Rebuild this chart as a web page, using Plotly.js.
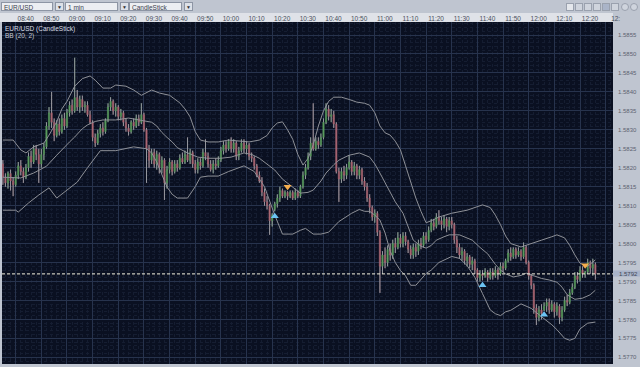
<!DOCTYPE html>
<html>
<head>
<meta charset="utf-8">
<script src="https://cdn.plot.ly/plotly-3.0.1.min.js"></script>
<style>
  html,body{margin:0;padding:0;background:#bfc5d0;width:640px;height:367px;overflow:hidden;font-family:"Liberation Sans",Arial,sans-serif;}
  #wrap{position:relative;width:640px;height:367px;}
  #strip{position:absolute;left:0;top:13px;width:613px;height:9px;background:#dfe2e8;z-index:0;}
  #chart{position:absolute;left:0;top:0;width:640px;height:367px;z-index:1;}
  .dd{position:absolute;top:2px;height:9px;background:#eceef2;border:1px solid #8d95a4;font-size:6.5px;line-height:9px;color:#3c4250;padding-left:2px;box-sizing:border-box;z-index:2;}
  .btn{position:absolute;top:2px;width:9px;height:9px;background:#dde1e8;border:1px solid #8d95a4;box-sizing:border-box;z-index:2;font-size:5px;line-height:8px;text-align:center;color:#333;}
  .ic{position:absolute;top:3px;width:8px;height:8px;background:#cfd4dd;border:1px solid #9aa1ae;box-sizing:border-box;z-index:2;}
</style>
</head>
<body>
<div id="wrap">
  <div id="strip"></div>
  <div id="chart"></div>
  <div class="dd" style="left:1px;width:52px;">EUR/USD</div>
  <div class="btn" style="left:55px;">&#9660;</div>
  <div class="dd" style="left:65px;width:53px;">1 min</div>
  <div class="btn" style="left:120px;">&#9660;</div>
  <div class="dd" style="left:129px;width:53px;">CandleStick</div>
  <div class="btn" style="left:184px;">&#9660;</div>
  <div class="ic" style="left:566px;background:#e4e7ec;"></div>
  <div class="ic" style="left:575px;"></div>
  <div class="ic" style="left:584px;"></div>
  <div class="ic" style="left:593px;"></div>
  <div class="ic" style="left:602px;background:#aab4c8;"></div>
  <div class="ic" style="left:611px;"></div>
  <div class="ic" style="left:621px;border-radius:4px;"></div>
  <div class="ic" style="left:630px;border-radius:4px;"></div>
</div>
<script>
// ---------------- DATA (EUR/USD, 1 min candles, 08:35 .. 12:26) ----------------
const day = '2008-06-10';
const firstCandle = '08:35';

const open = [
1.58210,1.58175,1.58160,1.58185,1.58165,1.58155,1.58180,1.58205,1.58190,1.58175,
1.58200,1.58230,1.58215,1.58250,1.58235,1.58210,1.58235,1.58255,1.58310,1.58345,
1.58320,1.58285,1.58315,1.58295,1.58330,1.58310,1.58345,1.58365,1.58350,1.58385,
1.58360,1.58380,1.58360,1.58365,1.58340,1.58320,1.58280,1.58265,1.58290,1.58305,
1.58295,1.58325,1.58360,1.58375,1.58350,1.58360,1.58335,1.58345,1.58320,1.58305,
1.58295,1.58320,1.58310,1.58330,1.58320,1.58340,1.58300,1.58250,1.58220,1.58240,
1.58210,1.58235,1.58200,1.58220,1.58160,1.58195,1.58215,1.58190,1.58210,1.58200,
1.58225,1.58215,1.58235,1.58220,1.58240,1.58210,1.58195,1.58215,1.58205,1.58240,
1.58230,1.58210,1.58195,1.58210,1.58205,1.58220,1.58245,1.58260,1.58250,1.58270,
1.58250,1.58265,1.58230,1.58245,1.58265,1.58250,1.58260,1.58230,1.58225,1.58205,
1.58180,1.58165,1.58135,1.58110,1.58100,1.58060,1.58090,1.58105,1.58120,1.58140,
1.58125,1.58135,1.58125,1.58135,1.58120,1.58135,1.58125,1.58150,1.58180,1.58200,
1.58230,1.58265,1.58250,1.58270,1.58260,1.58280,1.58320,1.58355,1.58335,1.58340,
1.58315,1.58190,1.58170,1.58190,1.58180,1.58200,1.58215,1.58190,1.58205,1.58180,
1.58195,1.58165,1.58150,1.58120,1.58095,1.58070,1.58080,1.58030,1.57940,1.57970,
1.57950,1.57985,1.57970,1.58000,1.57990,1.58015,1.58000,1.58020,1.58005,1.57985,
1.57970,1.57990,1.57980,1.58000,1.57995,1.58020,1.58010,1.58035,1.58055,1.58045,
1.58070,1.58060,1.58050,1.58065,1.58045,1.58060,1.58050,1.58010,1.57990,1.57970,
1.57980,1.57955,1.57965,1.57945,1.57955,1.57930,1.57910,1.57920,1.57915,1.57925,
1.57910,1.57925,1.57915,1.57930,1.57920,1.57940,1.57935,1.57955,1.57975,1.57965,
1.57985,1.57970,1.57980,1.57965,1.57990,1.57950,1.57915,1.57890,1.57830,1.57805,
1.57825,1.57825,1.57835,1.57845,1.57825,1.57840,1.57820,1.57835,1.57805,1.57825,
1.57850,1.57845,1.57870,1.57885,1.57915,1.57905,1.57930,1.57920,1.57925,1.57950,
1.57935,1.57945];

const high = [
1.58220,1.58185,1.58190,1.58195,1.58175,1.58190,1.58215,1.58220,1.58200,1.58210,
1.58240,1.58245,1.58260,1.58260,1.58250,1.58250,1.58265,1.58320,1.58360,1.58400,
1.58330,1.58325,1.58330,1.58340,1.58345,1.58355,1.58375,1.58380,1.58490,1.58405,
1.58390,1.58390,1.58375,1.58375,1.58350,1.58325,1.58290,1.58300,1.58315,1.58320,
1.58330,1.58370,1.58386,1.58380,1.58370,1.58365,1.58355,1.58350,1.58330,1.58315,
1.58325,1.58330,1.58340,1.58340,1.58370,1.58345,1.58305,1.58260,1.58250,1.58250,
1.58245,1.58240,1.58230,1.58225,1.58205,1.58225,1.58220,1.58220,1.58220,1.58235,
1.58240,1.58245,1.58280,1.58250,1.58245,1.58220,1.58225,1.58225,1.58250,1.58275,
1.58240,1.58220,1.58220,1.58225,1.58230,1.58255,1.58270,1.58270,1.58275,1.58280,
1.58275,1.58270,1.58255,1.58275,1.58275,1.58270,1.58265,1.58240,1.58230,1.58210,
1.58190,1.58175,1.58145,1.58125,1.58105,1.58080,1.58110,1.58130,1.58150,1.58145,
1.58140,1.58138,1.58140,1.58140,1.58145,1.58140,1.58155,1.58190,1.58210,1.58240,
1.58280,1.58370,1.58280,1.58280,1.58290,1.58330,1.58370,1.58365,1.58355,1.58350,
1.58320,1.58200,1.58200,1.58205,1.58210,1.58233,1.58220,1.58215,1.58210,1.58205,
1.58200,1.58175,1.58160,1.58130,1.58100,1.58090,1.58085,1.58035,1.57980,1.57990,
1.57995,1.58000,1.58010,1.58015,1.58030,1.58025,1.58030,1.58030,1.58010,1.57995,
1.58000,1.58000,1.58010,1.58015,1.58030,1.58030,1.58045,1.58065,1.58065,1.58080,
1.58088,1.58070,1.58075,1.58070,1.58070,1.58070,1.58055,1.58020,1.58000,1.57990,
1.57985,1.57975,1.57970,1.57965,1.57960,1.57935,1.57930,1.57930,1.57935,1.57930,
1.57935,1.57935,1.57940,1.57935,1.57950,1.57950,1.57960,1.57985,1.57990,1.57990,
1.57990,1.57990,1.57985,1.58003,1.57995,1.57955,1.57920,1.57895,1.57840,1.57835,
1.57840,1.57845,1.57855,1.57855,1.57850,1.57845,1.57845,1.57840,1.57835,1.57860,
1.57865,1.57880,1.57895,1.57925,1.57925,1.57940,1.57940,1.57928,1.57960,1.57955,
1.57960,1.57950];

const low = [
1.58155,1.58150,1.58145,1.58140,1.58125,1.58150,1.58170,1.58180,1.58160,1.58170,
1.58190,1.58200,1.58210,1.58220,1.58160,1.58200,1.58220,1.58250,1.58300,1.58305,
1.58270,1.58280,1.58285,1.58290,1.58300,1.58305,1.58335,1.58340,1.58345,1.58350,
1.58345,1.58350,1.58345,1.58335,1.58315,1.58270,1.58255,1.58260,1.58280,1.58285,
1.58290,1.58320,1.58350,1.58340,1.58335,1.58325,1.58325,1.58310,1.58295,1.58285,
1.58290,1.58300,1.58305,1.58310,1.58315,1.58295,1.58160,1.58200,1.58210,1.58200,
1.58195,1.58185,1.58185,1.58115,1.58145,1.58185,1.58180,1.58185,1.58190,1.58195,
1.58210,1.58210,1.58215,1.58210,1.58200,1.58185,1.58185,1.58195,1.58200,1.58220,
1.58200,1.58190,1.58185,1.58195,1.58200,1.58215,1.58235,1.58240,1.58245,1.58240,
1.58240,1.58220,1.58220,1.58240,1.58240,1.58235,1.58220,1.58215,1.58195,1.58175,
1.58160,1.58125,1.58100,1.58090,1.58023,1.58045,1.58085,1.58095,1.58110,1.58120,
1.58120,1.58115,1.58120,1.58115,1.58115,1.58120,1.58120,1.58145,1.58170,1.58195,
1.58220,1.58245,1.58245,1.58250,1.58255,1.58275,1.58315,1.58325,1.58320,1.58305,
1.58185,1.58110,1.58160,1.58165,1.58170,1.58195,1.58180,1.58180,1.58170,1.58170,
1.58155,1.58140,1.58110,1.58080,1.58060,1.58055,1.58020,1.57870,1.57920,1.57935,
1.57940,1.57955,1.57960,1.57975,1.57985,1.57990,1.57990,1.57995,1.57975,1.57960,
1.57960,1.57965,1.57970,1.57985,1.57990,1.58000,1.58005,1.58030,1.58035,1.58040,
1.58050,1.58035,1.58040,1.58030,1.58035,1.58040,1.58000,1.57975,1.57960,1.57955,
1.57945,1.57940,1.57935,1.57930,1.57920,1.57900,1.57900,1.57903,1.57910,1.57900,
1.57905,1.57905,1.57910,1.57905,1.57915,1.57925,1.57930,1.57950,1.57955,1.57960,
1.57960,1.57965,1.57955,1.57960,1.57945,1.57905,1.57880,1.57815,1.57785,1.57795,
1.57800,1.57822,1.57820,1.57815,1.57820,1.57805,1.57810,1.57788,1.57795,1.57820,
1.57835,1.57840,1.57865,1.57880,1.57895,1.57900,1.57910,1.57910,1.57920,1.57920,
1.57915,1.57905];

const close = [
1.58175,1.58160,1.58185,1.58165,1.58155,1.58180,1.58205,1.58190,1.58175,1.58200,
1.58230,1.58215,1.58250,1.58235,1.58210,1.58235,1.58255,1.58310,1.58345,1.58320,
1.58285,1.58315,1.58295,1.58330,1.58310,1.58345,1.58365,1.58350,1.58385,1.58360,
1.58380,1.58360,1.58365,1.58340,1.58320,1.58280,1.58265,1.58290,1.58305,1.58295,
1.58325,1.58360,1.58375,1.58350,1.58360,1.58335,1.58345,1.58320,1.58305,1.58295,
1.58320,1.58310,1.58330,1.58320,1.58340,1.58300,1.58250,1.58220,1.58240,1.58210,
1.58235,1.58200,1.58220,1.58160,1.58195,1.58215,1.58190,1.58210,1.58200,1.58225,
1.58215,1.58235,1.58220,1.58240,1.58210,1.58195,1.58215,1.58205,1.58240,1.58230,
1.58210,1.58195,1.58210,1.58205,1.58220,1.58245,1.58260,1.58250,1.58270,1.58250,
1.58265,1.58230,1.58245,1.58265,1.58250,1.58260,1.58230,1.58225,1.58205,1.58180,
1.58165,1.58135,1.58110,1.58100,1.58060,1.58075,1.58105,1.58120,1.58140,1.58125,
1.58135,1.58125,1.58135,1.58120,1.58135,1.58125,1.58150,1.58180,1.58200,1.58230,
1.58265,1.58250,1.58270,1.58260,1.58280,1.58320,1.58355,1.58335,1.58340,1.58315,
1.58190,1.58170,1.58190,1.58180,1.58200,1.58215,1.58190,1.58205,1.58180,1.58195,
1.58165,1.58150,1.58120,1.58095,1.58070,1.58080,1.58030,1.57940,1.57970,1.57950,
1.57985,1.57970,1.58000,1.57990,1.58015,1.58000,1.58020,1.58005,1.57985,1.57970,
1.57990,1.57980,1.58000,1.57995,1.58020,1.58010,1.58035,1.58055,1.58045,1.58070,
1.58060,1.58050,1.58065,1.58045,1.58060,1.58050,1.58010,1.57990,1.57970,1.57980,
1.57955,1.57965,1.57945,1.57955,1.57930,1.57910,1.57920,1.57915,1.57925,1.57910,
1.57925,1.57915,1.57930,1.57920,1.57940,1.57935,1.57955,1.57975,1.57965,1.57985,
1.57970,1.57980,1.57965,1.57990,1.57950,1.57915,1.57890,1.57830,1.57805,1.57825,
1.57815,1.57835,1.57845,1.57825,1.57840,1.57820,1.57835,1.57805,1.57825,1.57850,
1.57845,1.57870,1.57885,1.57915,1.57905,1.57930,1.57920,1.57925,1.57950,1.57935,
1.57945,1.57920];

// Bollinger bands (20, 2)
const upperTimes = ['08:35','08:39','08:42','08:44','08:47','08:51','08:53','08:56','08:58','09:00',
'09:03','09:06','09:09','09:11','09:14','09:17','09:19','09:23','09:26','09:29',
'09:33','09:36','09:40','09:44','09:46','09:48','09:50','09:52','09:55','09:59',
'10:03','10:07','10:11','10:15','10:18','10:20','10:22','10:24','10:26','10:28',
'10:30','10:32','10:34','10:36','10:38','10:40','10:42','10:44','10:47','10:50',
'10:53','10:56','10:58','11:00','11:02','11:04','11:06','11:08','11:10','11:12',
'11:14','11:16','11:18','11:20','11:22','11:25','11:30','11:36','11:42','11:45',
'11:47','11:49','11:51','11:53','11:57','12:01','12:05','12:09','12:11','12:14',
'12:16','12:18','12:20','12:23','12:26'];
const upperBand = [1.58273,1.58273,1.58247,1.58239,1.58255,1.58265,1.58286,1.58321,1.58355,1.58375,
1.58415,1.58435,1.58442,1.58431,1.58410,1.58410,1.58418,1.58415,1.58405,1.58391,
1.58405,1.58397,1.58391,1.58371,1.58355,1.58334,1.58295,1.58273,1.58268,1.58268,
1.58273,1.58270,1.58268,1.58273,1.58285,1.58305,1.58318,1.58321,1.58300,1.58275,
1.58235,1.58207,1.58225,1.58260,1.58310,1.58350,1.58375,1.58386,1.58386,1.58380,
1.58373,1.58370,1.58365,1.58345,1.58310,1.58292,1.58286,1.58270,1.58247,1.58205,
1.58160,1.58120,1.58085,1.58055,1.58060,1.58070,1.58080,1.58088,1.58102,1.58095,
1.58075,1.58050,1.58020,1.58000,1.57991,1.58001,1.58009,1.58018,1.58023,1.58015,
1.57995,1.57970,1.57948,1.57940,1.57957];

const middleTimes = ['08:35','08:39','08:42','08:47','08:52','08:56','08:59','09:01','09:03','09:06',
'09:08','09:11','09:14','09:19','09:24','09:29','09:33','09:35','09:37','09:39',
'09:41','09:43','09:47','09:51','09:55','10:00','10:04','10:09','10:12','10:15',
'10:18','10:21','10:24','10:28','10:31','10:34','10:36','10:39','10:41','10:44',
'10:46','10:50','10:54','10:58','11:00','11:02','11:04','11:06','11:08','11:11',
'11:13','11:15','11:18','11:20','11:22','11:24','11:27','11:29','11:33','11:36',
'11:38','11:41','11:44','11:47','11:49','11:51','11:54','11:57','11:59','12:02',
'12:05','12:08','12:11','12:13','12:15','12:18','12:21','12:24','12:26'];
const middleBand = [1.58175,1.58175,1.58173,1.58186,1.58204,1.58233,1.58255,1.58268,1.58281,1.58303,
1.58313,1.58322,1.58326,1.58326,1.58331,1.58326,1.58320,1.58310,1.58293,1.58280,
1.58268,1.58253,1.58239,1.58228,1.58225,1.58225,1.58228,1.58239,1.58235,1.58225,
1.58210,1.58194,1.58170,1.58149,1.58133,1.58135,1.58141,1.58165,1.58186,1.58208,
1.58220,1.58233,1.58239,1.58228,1.58210,1.58186,1.58160,1.58133,1.58110,1.58080,
1.58045,1.58009,1.57993,1.57988,1.57995,1.58009,1.58018,1.58023,1.58023,1.58015,
1.58009,1.57990,1.57973,1.57945,1.57930,1.57920,1.57912,1.57916,1.57922,1.57915,
1.57908,1.57904,1.57898,1.57885,1.57865,1.57853,1.57856,1.57865,1.57877];

const lowerTimes = ['08:35','08:40','08:41','08:45','08:49','08:53','08:56','09:00','09:04','09:08',
'09:13','09:19','09:26','09:31','09:33','09:35','09:37','09:39','09:41','09:43',
'09:47','09:50','09:52','09:55','09:59','10:03','10:09','10:13','10:17','10:21',
'10:24','10:28','10:31','10:33','10:36','10:39','10:42','10:46','10:51','10:54',
'10:56','10:58','11:00','11:02','11:04','11:06','11:08','11:10','11:12','11:14',
'11:16','11:18','11:20','11:22','11:25','11:30','11:33','11:36','11:39','11:42',
'11:45','11:47','11:49','11:51','11:53','11:57','12:01','12:05','12:09','12:11',
'12:14','12:16','12:18','12:20','12:23','12:26'];
const lowerBand = [1.58088,1.58088,1.58083,1.58107,1.58128,1.58147,1.58120,1.58141,1.58162,1.58200,
1.58245,1.58245,1.58255,1.58250,1.58239,1.58215,1.58180,1.58149,1.58130,1.58120,
1.58120,1.58150,1.58175,1.58178,1.58178,1.58190,1.58205,1.58190,1.58150,1.58075,
1.58025,1.58025,1.58035,1.58040,1.58025,1.58025,1.58030,1.58058,1.58080,1.58090,
1.58085,1.58085,1.58075,1.58062,1.58028,1.57980,1.57950,1.57929,1.57915,1.57890,
1.57890,1.57905,1.57921,1.57930,1.57950,1.57966,1.57961,1.57942,1.57911,1.57868,
1.57825,1.57815,1.57810,1.57820,1.57824,1.57841,1.57829,1.57807,1.57786,1.57773,
1.57750,1.57745,1.57750,1.57775,1.57790,1.57793];

// Signal markers
const buyTimes = ['10:21','11:42','12:06'];
const buyPrices = [1.58072,1.57890,1.57812];
const sellTimes = ['10:26','12:22'];
const sellPrices = [1.58150,1.57943];

const lastPrice = 1.5792;
const timeTicks = ['08:40','08:50','09:00','09:10','09:20','09:30','09:40','09:50','10:00','10:10',
'10:20','10:30','10:40','10:50','11:00','11:10','11:20','11:30','11:40','11:50','12:00','12:10','12:20','12:30'];
const timeTickText = ['08:40','08:50','09:00','09:10','09:20','09:30','09:40','09:50','10:00','10:10',
'10:20','10:30','10:40','10:50','11:00','11:10','11:20','11:30','11:40','11:50','12:00','12:10','12:20','12:'];

// ---------------- BUILD ----------------
const ts = hm => day + ' ' + hm + ':00';
function addMin(hm, k){
  const [h,m] = hm.split(':').map(Number);
  const t = h*60+m+k;
  return String(Math.floor(t/60)).padStart(2,'0')+':'+String(t%60).padStart(2,'0');
}
const times = open.map((_,i)=> ts(addMin(firstCandle,i)));

// gray wicks above and below each body
const wx=[], wy=[];
times.forEach((t,i)=>{
  const top = Math.max(open[i],close[i]), bot = Math.min(open[i],close[i]);
  wx.push(t,t,null,t,t,null);
  wy.push(top,high[i],null,low[i],bot,null);
});

const bandLine = {color:'#8e9097', width:1};
const traces = [
  {type:'scatter', mode:'lines', x:upperTimes.map(ts), y:upperBand, line:bandLine, hoverinfo:'skip'},
  {type:'scatter', mode:'lines', x:middleTimes.map(ts), y:middleBand, line:bandLine, hoverinfo:'skip'},
  {type:'scatter', mode:'lines', x:lowerTimes.map(ts), y:lowerBand, line:bandLine, hoverinfo:'skip'},
  {type:'candlestick', x:times, open:open, high:high, low:low, close:close,
    increasing:{line:{color:'#5a9c5e', width:0.6}, fillcolor:'#5a9c5e'},
    decreasing:{line:{color:'#ad6874', width:0.6}, fillcolor:'#ad6874'},
    whiskerwidth:0},
  {type:'scatter', mode:'lines', x:wx, y:wy, line:{color:'#94979e', width:1}, hoverinfo:'skip'},
  {type:'scatter', mode:'markers', x:buyTimes.map(ts), y:buyPrices,
    marker:{symbol:'triangle-up', size:7, color:'#6cc4f4'}},
  {type:'scatter', mode:'markers', x:sellTimes.map(ts), y:sellPrices,
    marker:{symbol:'triangle-down', size:7, color:'#f4ad4e'}}
];

const layout = {
  width:640, height:367,
  margin:{l:2, r:27, t:22, b:3, pad:0},
  paper_bgcolor:'rgba(0,0,0,0)',
  plot_bgcolor:'#0a1021',
  showlegend:false,
  hovermode:false,
  font:{family:'Liberation Sans, Arial, sans-serif'},
  xaxis:{
    type:'date', range:[day+' 08:34:40', day+' 12:32:52'], side:'top',
    tickvals:timeTicks.map(ts), ticktext:timeTickText,
    ticks:'', showline:false, zeroline:false,
    showgrid:true, gridcolor:'#27334d', gridwidth:1,
    tickfont:{size:6.5, color:'#4a505c', family:'Liberation Sans, Arial, sans-serif'},
    ticklabelshift:10, ticklabelstandoff:-1,
    minor:{dtick:120000, showgrid:true, gridcolor:'#151d31', griddash:'dot', gridwidth:1},
    rangeslider:{visible:false}, fixedrange:true
  },
  xaxis2:{
    overlaying:'x', side:'top', type:'date', range:[day+' 08:34:40', day+' 12:32:52'],
    tickvals:timeTicks.map(ts), showticklabels:false, ticks:'outside', ticklen:9,
    tickcolor:'#9ea5b2', tickwidth:1, showgrid:false, zeroline:false, showline:false
  },
  yaxis:{
    side:'right', range:[1.576824, 1.585843], tick0:1.5770, dtick:0.0005, tickformat:'.4f',
    showgrid:true, gridcolor:'#27334d', gridwidth:1, zeroline:false, showline:false, ticks:'',
    tickfont:{size:6, color:'#5d6370', family:'Liberation Sans, Arial, sans-serif'},
    ticklabelstandoff:4,
    minor:{dtick:0.0001, showgrid:true, gridcolor:'#151d31', griddash:'dot', gridwidth:1},
    fixedrange:true
  },
  shapes:[
    {type:'line', xref:'paper', x0:0, x1:1, yref:'y', y0:lastPrice, y1:lastPrice,
     line:{color:'#f4f1dc', width:1, dash:'3px,2px'}},
    {type:'rect', xref:'paper', x0:1.0, x1:1.045, yref:'y', y0:lastPrice-0.00007, y1:lastPrice+0.00009,
     fillcolor:'#a8b3c9', line:{width:0}}
  ],
  annotations:[
    {xref:'paper', yref:'y', x:1.007, y:lastPrice+0.00001, xanchor:'left', yanchor:'middle', showarrow:false,
     text:lastPrice.toFixed(4), font:{size:6, color:'#3e4452'}},
    {xref:'paper', yref:'paper', x:0.002, y:0.998, xanchor:'left', yanchor:'top', showarrow:false,
     text:'EUR/USD (CandleStick)', font:{size:6.5, color:'#d9dde6'}},
    {xref:'paper', yref:'paper', x:0.002, y:0.978, xanchor:'left', yanchor:'top', showarrow:false,
     text:'BB (20, 2)', font:{size:6.5, color:'#c2c7d1'}}
  ]
};

Plotly.newPlot('chart', traces, layout, {staticPlot:true, displayModeBar:false});
</script>
</body>
</html>
